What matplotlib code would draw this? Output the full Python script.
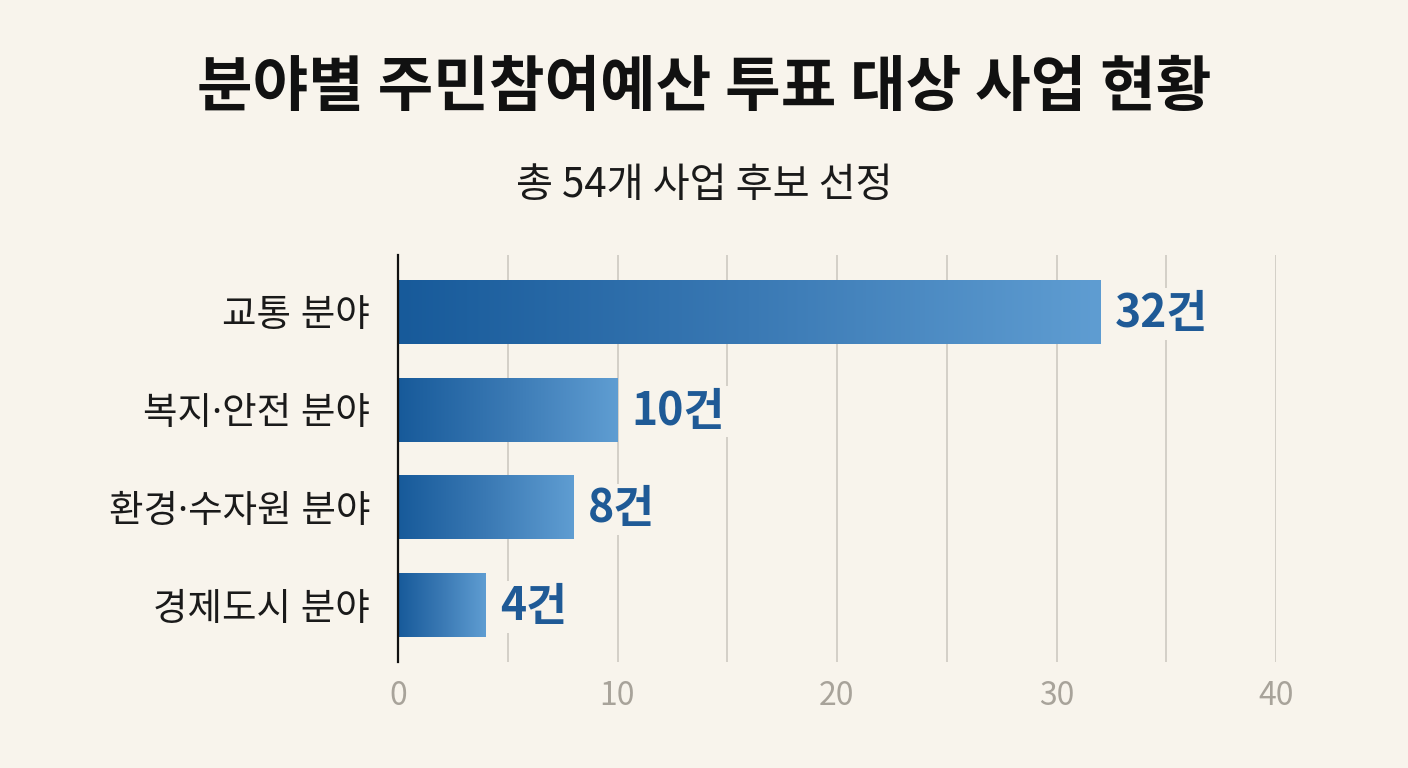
import numpy as np
import matplotlib
matplotlib.use("Agg")
import matplotlib.pyplot as plt
from matplotlib.colors import LinearSegmentedColormap

plt.rcParams['font.family'] = ['Noto Sans CJK KR', 'DejaVu Sans']

# data
categories = ['교통 분야', '복지·안전 분야', '환경·수자원 분야', '경제도시 분야']
counts = [32, 10, 8, 4]
x_ticks = [0, 10, 20, 30, 40]
title = '분야별 주민참여예산 투표 대상 사업 현황'
subtitle = '총 54개 사업 후보 선정'

bg = '#f8f4ec'
label_blue = '#1f5a96'
grad = LinearSegmentedColormap.from_list('bar', ['#175a9a', '#3a79b4', '#5f9dd2'])

fig = plt.figure(figsize=(14.08, 7.68), dpi=100, facecolor=bg)
ax = fig.add_axes([398/1408, 1 - 662/768, 878/1408, 407/768])
ax.set_facecolor(bg)

ypos = np.arange(len(categories))
bars = ax.barh(ypos, counts, height=0.655, color='none', edgecolor='none')

# gradient fill for each bar
g = np.linspace(0, 1, 256).reshape(1, -1)
for b in bars:
    x0, y0 = b.get_x(), b.get_y()
    w, h = b.get_width(), b.get_height()
    ax.imshow(g, cmap=grad, extent=[x0, x0 + w, y0, y0 + h],
              aspect='auto', zorder=2, interpolation='bicubic')
    ax.text(x0 + w + 0.65, y0 + h / 2 + 0.02, f'{int(w)}건', va='center', ha='left',
            fontsize=32, fontweight='bold', color=label_blue, zorder=3,
            bbox=dict(facecolor=bg, edgecolor='none', pad=2))

ax.set_xlim(0, 40)
ax.set_ylim(len(categories) - 0.417, -0.583)
ax.set_xticks(x_ticks)
ax.set_xticks(np.arange(0, 41, 5), minor=True)
ax.tick_params(axis='x', which='both', length=0, pad=13, labelsize=23, labelcolor='#a8a39a')
ax.set_yticks(ypos)
ax.set_yticklabels(categories, fontsize=27, family=['Noto Sans', 'Noto Sans CJK KR'])
ax.tick_params(axis='y', length=0, pad=20, labelcolor='#1a1a1a')
for lbl in ax.get_xticklabels():
    lbl.set_fontweight('light')

ax.grid(axis='x', which='both', color='#d3cfc7', linewidth=1.4, zorder=0)
ax.set_axisbelow(True)
for s in ['top', 'right', 'bottom']:
    ax.spines[s].set_visible(False)
ax.spines['left'].set_color('#111111')
ax.spines['left'].set_linewidth(1.6)
ax.spines['left'].set_zorder(4)

fig.text(0.5, 1 - 88/768, title, ha='center', va='center', fontsize=43.5,
         fontweight='bold', color='#111111')
fig.text(0.5, 1 - 185/768, subtitle, ha='center', va='center', fontsize=29,
         color='#1a1a1a')

fig.savefig('out.png', dpi=100, facecolor=bg)
